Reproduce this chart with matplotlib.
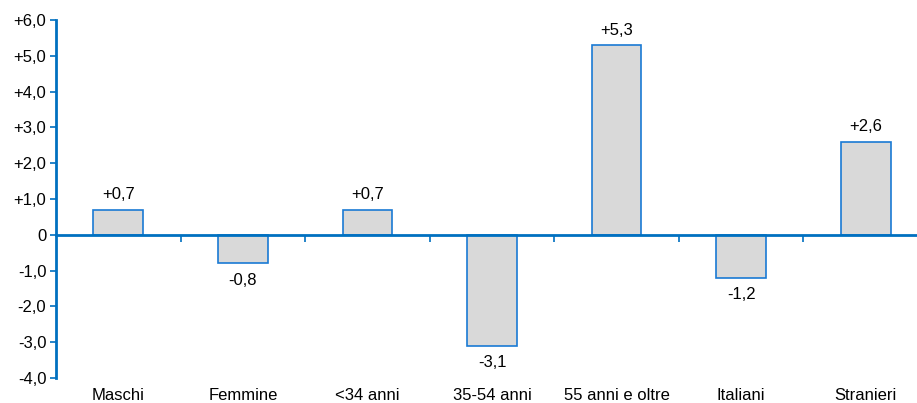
import matplotlib.pyplot as plt
import numpy as np

plt.rcParams['font.family'] = ['Liberation Sans', 'DejaVu Sans']

categories = ["Maschi", "Femmine", "<34 anni", "35-54 anni", "55 anni e oltre", "Italiani", "Stranieri"]
values = [0.7, -0.8, 0.7, -3.1, 5.3, -1.2, 2.6]

blue = "#0070C0"
grey = "#D9D9D9"
fs = 12

fig = plt.figure(figsize=(9.17, 4.03), dpi=100)
ax = fig.add_axes([56 / 917, 25 / 403, 872 / 917, 358 / 403])

x = np.arange(len(categories))
ax.bar(x, values, width=0.4, color=grey, edgecolor="#1A7AD4", linewidth=1.2, zorder=2)

ax.set_xlim(-0.5, len(categories) - 0.5)
ax.set_ylim(-4, 6)

# y axis
yt = np.arange(-4, 7, 1)
ax.set_yticks(yt)
ax.set_yticklabels(["0" if v == 0 else f"{v:+.1f}".replace(".", ",") for v in yt], fontsize=fs)
ax.tick_params(axis='y', colors=blue, labelcolor='black', length=4, width=1.2, direction='out', pad=3)
ax.spines['left'].set_color(blue)
ax.spines['left'].set_linewidth(2)
for s in ['top', 'right']:
    ax.spines[s].set_visible(False)

# zero line with separators between categories
ax.spines['bottom'].set_position(('data', 0))
ax.spines['bottom'].set_color(blue)
ax.spines['bottom'].set_linewidth(2)
ax.spines['bottom'].set_zorder(3)
ax.set_xticks(x[:-1] + 0.5)
ax.set_xticklabels([])
ax.tick_params(axis='x', colors=blue, length=5, width=1.2, direction='out')

# category labels under the plot
for i, c in enumerate(categories):
    ax.annotate(c, xy=(i, 0), xycoords=('data', 'axes fraction'), xytext=(0, -17),
                textcoords='offset pixels', ha='center', va='center', fontsize=fs)

# value labels
for i, v in enumerate(values):
    txt = f"{v:+.1f}".replace(".", ",")
    off = 15 if v > 0 else -17
    ax.annotate(txt, xy=(i, v), xytext=(0, off), textcoords='offset pixels',
                ha='center', va='center', fontsize=fs)

fig.savefig("out.png", dpi=100)
